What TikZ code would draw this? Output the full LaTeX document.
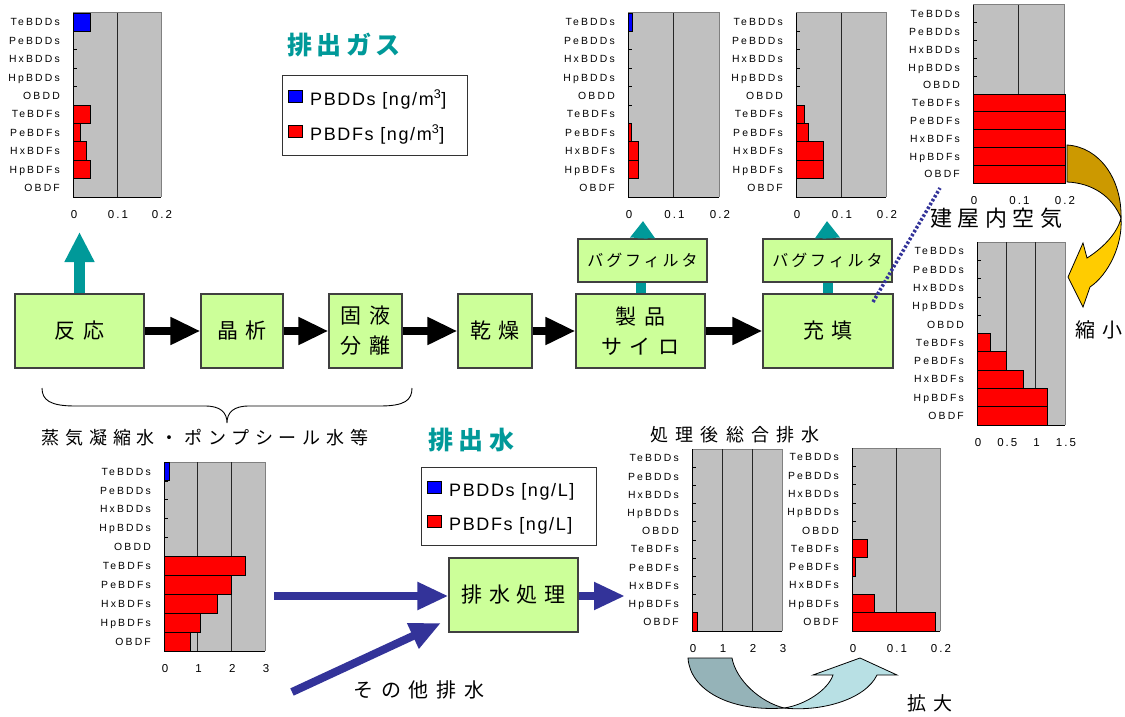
\documentclass[tikz,border=0pt]{standalone}
\usepackage{fontspec}
\setmainfont{Liberation Sans}
\newfontfamily\jp{Noto Sans CJK JP}
\usetikzlibrary{arrows.meta}
\definecolor{boxgreen}{HTML}{CCFF99}
\definecolor{tealc}{HTML}{009999}
\definecolor{navy}{HTML}{333399}
\definecolor{plotgray}{HTML}{C0C0C0}
\definecolor{edgegray}{HTML}{808080}
\definecolor{gold}{HTML}{CC9900}
\definecolor{yel}{HTML}{FFCC00}
\definecolor{backteal}{HTML}{95B3B8}
\definecolor{frontcyan}{HTML}{B8E0E4}
\definecolor{barblue}{HTML}{0000FF}
\definecolor{barred}{HTML}{FF0000}
\newcommand\jpf[3]{\jp\addfontfeature{LetterSpace=#3}\fontsize{#1}{#2}\selectfont}
\newcommand\lsf[3]{\addfontfeature{LetterSpace=#3}\fontsize{#1}{#2}\selectfont}
\tikzset{
  proc/.style={draw=black!75, line width=1.1pt, fill=boxgreen, inner sep=0pt, align=center, font=\jpf{21}{30}{35}},
  rowlab/.style={anchor=east, inner sep=0pt, text height=7.4pt, text depth=0pt, font=\lsf{10.4}{12}{21}},
  ticklab/.style={anchor=center, inner sep=0pt, text height=8pt, text depth=0pt, font=\lsf{11.5}{13}{18}},
  gridln/.style={black!85, line width=0.9pt},
  barline/.style={draw=black, line width=0.9pt},
  blkarrow/.style={line width=8pt, black, -{Triangle[length=30pt,width=26pt]}},
  navyarrow/.style={line width=8pt, navy, -{Triangle[length=31pt,width=26pt]}},
  tealarrow/.style={line width=11pt, tealc, -{Triangle[length=30pt,width=28pt]}},
  tealsmall/.style={line width=10pt, tealc, -{Triangle[length=17pt,width=24pt]}},
  tealbar/.style={line width=10pt, tealc},
  dotline/.style={line width=3.5pt, navy, dash pattern=on 2.5pt off 2pt},
  legbox/.style={draw=black!80, line width=1pt, fill=white, inner sep=0pt},
  legsq/.style={draw=black, line width=0.8pt, minimum width=14pt, minimum height=12pt, inner sep=0pt},
  legtext/.style={anchor=base west, inner sep=0pt, font=\lsf{18}{20}{9}},
  titleteal/.style={inner sep=0pt, text=tealc, font={\jp\bfseries\addfontfeature{LetterSpace=18}\fontsize{25}{30}\selectfont}},
  caption/.style={inner sep=0pt},
  curvearrow/.style={draw=black, line width=0.8pt}
}
% #1 id, #2 x0, #3 x1, #4 ytop, #5 ybot, #6 max, #7 grid, #8 ticks, #9 bars
\newcommand{\hchart}[9]{%
  \fill[plotgray] (#2,#4) rectangle (#3,#5);
  \draw[edgegray, line width=1pt] (#2,#4) -- (#3,#4) -- (#3,#5);
  \foreach \gv in {#7} \draw[gridln] ({#2+(#3-#2)*\gv/#6},#4) -- ({#2+(#3-#2)*\gv/#6},#5);
  \foreach \bi/\bv/\bcol in {#9} \filldraw[barline, fill=\bcol] (#2,{#4+(#5-#4)*(\bi-1)/10}) rectangle ({#2+(#3-#2)*\bv/#6},{#4+(#5-#4)*\bi/10});
  \draw[black, line width=1pt] (#2,#4) -- (#2,#5) -- (#3,#5);
  \foreach \ti in {1,...,9} \draw[black, line width=0.8pt] (#2,{#4+(#5-#4)*\ti/10}) -- ++(4,0);
  \foreach \rl [count=\ri] in {TeBDDs,PeBDDs,HxBDDs,HpBDDs,OBDD,TeBDFs,PeBDFs,HxBDFs,HpBDFs,OBDF}
    \node[rowlab] (#1r\ri) at ({#2-13},{#4+(#5-#4)*(\ri-0.5)/10}) {\rl};
  \foreach \tv/\tl [count=\tj] in {#8} \node[ticklab] (#1t\tj) at ({#2+(#3-#2)*\tv/#6+1},{#5+17}) {\tl};
}
\begin{document}
\begin{tikzpicture}[x=1pt,y=-1pt]
\fill[white] (0,0) rectangle (1125,717);
\useasboundingbox (0,0) rectangle (1125,717);

% charts
\hchart{ca}{73}{161}{13}{197}{0.2}{0.1}{0/0,0.1/0.1,0.2/0.2}{1/0.039/barblue,6/0.04/barred,7/0.018/barred,8/0.03/barred,9/0.039/barred}
\hchart{cb}{628}{719}{13}{197}{0.2}{0.1}{0/0,0.1/0.1,0.2/0.2}{1/0.01/barblue,7/0.008/barred,8/0.023/barred,9/0.023/barred}
\hchart{cc}{796}{886}{13}{197}{0.2}{0.1}{0/0,0.1/0.1,0.2/0.2}{6/0.018/barred,7/0.028/barred,8/0.06/barred,9/0.06/barred}
\hchart{cd}{973}{1064}{5}{183}{0.2}{0.1}{0/0,0.1/0.1,0.2/0.2}{6/0.204/barred,7/0.204/barred,8/0.204/barred,9/0.204/barred,10/0.204/barred}
\hchart{ce}{977}{1065}{242}{425}{1.5}{0.5,1}{0/0,0.5/0.5,1/1,1.5/1.5}{6/0.23/barred,7/0.5/barred,8/0.79/barred,9/1.2/barred,10/1.2/barred}
\hchart{cf}{164}{265}{462}{651}{3}{1,2}{0/0,1/1,2/2,3/3}{1/0.16/barblue,6/2.42/barred,7/2.0/barred,8/1.6/barred,9/1.07/barred,10/0.78/barred}
\hchart{cg}{692}{782}{449}{631}{3}{1,2}{0/0,1/1,2/2,3/3}{10/0.19/barred}
\hchart{ch}{852}{940}{448}{631}{0.2}{0.1}{0/0,0.1/0.1,0.2/0.2}{6/0.036/barred,7/0.007/barred,9/0.052/barred,10/0.19/barred}

% process boxes
\node[proc, minimum width=129pt, minimum height=74pt] (n1) at (79.5,331) {反応};
\node[proc, minimum width=82pt, minimum height=74pt] (n2) at (242,331) {晶析};
\node[proc, minimum width=73pt, minimum height=74pt] (n3) at (365.5,331) {固液\\分離};
\node[proc, minimum width=74pt, minimum height=74pt] (n4) at (495,331) {乾燥};
\node[proc, minimum width=129pt, minimum height=74pt] (n5) at (640.5,331) {製品\\サイロ};
\node[proc, minimum width=130pt, minimum height=74pt] (n6) at (828,331) {充填};
\node[proc, minimum width=129pt, minimum height=43pt, font=\jpf{16}{20}{18}] (bf1) at (642.5,260.5) {バグフィルタ};
\node[proc, minimum width=129pt, minimum height=43pt, font=\jpf{16}{20}{18}] (bf2) at (827.5,260.5) {バグフィルタ};
\node[proc, minimum width=129pt, minimum height=74pt, font=\jpf{21}{30}{33}] (n7) at (513.5,595) {排水処理};

% black process arrows
\draw[blkarrow] (n1) -- (n2);
\draw[blkarrow] (n2) -- (n3);
\draw[blkarrow] (n3) -- (n4);
\draw[blkarrow] (n4) -- (n5);
\draw[blkarrow] (n5) -- (n6);

% teal exhaust arrows
\coordinate (g1) at (79.5,232);
\draw[tealarrow] (n1.north) -- (g1);
\draw[tealbar] (n5.north) -- (n5.north |- bf1.south);
\draw[tealbar] (n6.north) -- (n6.north |- bf2.south);
\coordinate (g2) at (643,221);
\coordinate (g3) at (827,221);
\draw[tealsmall] (bf1.north) -- (g2);
\draw[tealsmall] (bf2.north) -- (g3);

% dotted line
\coordinate (d1) at (873,302);
\coordinate (d2) at (940,188);
\draw[dotline] (d1) -- (d2);

% legends
\node[legbox, minimum width=185pt, minimum height=79pt] (leg1) at (374.5,115.5) {};
\node[legsq, fill=barblue] (leg1a) at (295.5,96) {};
\node[legsq, fill=barred] (leg1b) at (295.5,131.5) {};
\node[legtext] (leg1at) at (310,105) {PBDDs [ng/m\textsuperscript{3}]};
\node[legtext] (leg1bt) at (310,140) {PBDFs [ng/m\textsuperscript{3}]};

\node[legbox, minimum width=175pt, minimum height=78pt] (leg2) at (508.5,506) {};
\node[legsq, fill=barblue] (leg2a) at (434,487.5) {};
\node[legsq, fill=barred] (leg2b) at (434,521.5) {};
\node[legtext] (leg2at) at (449,496.7) {PBDDs [ng/L]};
\node[legtext] (leg2bt) at (449,530) {PBDFs [ng/L]};

% titles and captions
\node[titleteal] (tgas) at (344,45) {排出ガス};
\node[titleteal, font={\jp\bfseries\addfontfeature{LetterSpace=22}\fontsize{25}{30}\selectfont}] (twat) at (471,440) {排出水};
\node[caption, font=\jpf{18}{22}{40}] (tproc) at (735,435) {処理後総合排水};
\node[caption, font=\jpf{22}{26}{25}] (tair) at (996,218) {建屋内空気};
\node[caption, font=\jpf{20}{24}{35}] (tshr) at (1099,330) {縮小};
\node[caption, font=\jpf{19}{24}{35}] (tenl) at (930,703) {拡大};
\node[caption, font=\jpf{20}{24}{39}] (toth) at (419,690) {その他排水};
\node[caption, font=\jpf{18}{22}{32}] (tsteam) at (205,438) {蒸気凝縮水・ポンプシール水等};

% brace
\draw[line width=0.9pt] (42,388) .. controls (42,400) and (50,406) .. (75,406) -- (205,406)
  .. controls (220,406) and (227,412) .. (227,423)
  .. controls (227,412) and (234,406) .. (249,406) -- (380,406)
  .. controls (405,406) and (412,400) .. (412,388);

% waste water arrows
\coordinate (w1s) at (274,596);
\draw[navyarrow] (w1s) -- (n7.west |- w1s);
\coordinate (w2s) at (292,692);
\coordinate (w2e) at (441,623);
\draw[navyarrow] (w2s) -- (w2e);
\coordinate (w3e) at (625,596);
\draw[navyarrow] (n7.east |- w3e) -- (w3e);

% curved arrow (shrink)
\filldraw[curvearrow, fill=gold] (1067,145) .. controls (1100,147) and (1122,180) .. (1121,218)
  .. controls (1112,196) and (1092,183) .. (1067,182) -- cycle;
\filldraw[curvearrow, fill=yel] (1121,218) .. controls (1123,245) and (1108,275) .. (1090,287)
  -- (1083,307) -- (1068,277) -- (1083,243) -- (1087,258)
  .. controls (1100,250) and (1117,235) .. (1121,218) -- cycle;

% curved arrow (enlarge)
\filldraw[curvearrow, fill=backteal] (688,658) -- (732,658) .. controls (736,680) and (760,702) .. (784,708)
  .. controls (730,712) and (690,690) .. (688,658) -- cycle;
\filldraw[curvearrow, fill=frontcyan] (784,708) .. controls (820,712) and (865,700) .. (877,675)
  -- (897,675) -- (860,658) -- (813,675) -- (833,675)
  .. controls (828,690) and (805,705) .. (784,708) -- cycle;
\end{tikzpicture}
\end{document}
